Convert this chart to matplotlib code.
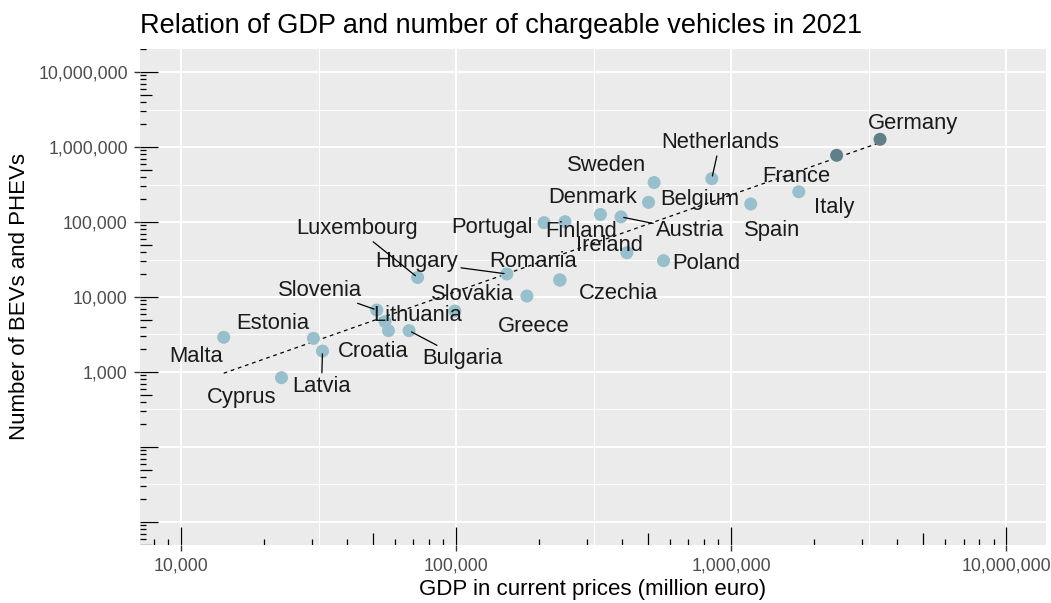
import numpy as np
import matplotlib
matplotlib.use("Agg")
import matplotlib.pyplot as plt
from matplotlib.transforms import blended_transform_factory
from matplotlib.ticker import FixedLocator, FuncFormatter, NullLocator

# ---------------- data ----------------
countries = ["Germany", "France", "Italy", "Spain", "Netherlands", "Sweden",
             "Belgium", "Denmark", "Austria", "Portugal", "Finland", "Ireland",
             "Poland", "Hungary", "Czechia", "Romania", "Greece", "Slovakia",
             "Luxembourg", "Slovenia", "Lithuania", "Croatia", "Bulgaria",
             "Estonia", "Malta", "Latvia", "Cyprus"]
gdp_meur = [3480000, 2420000, 1763000, 1179000, 851000, 525000,
            501000, 335000, 398000, 209000, 249000, 418000,
            568000, 153000, 238000, 239000, 181000, 99000,
            72500, 51500, 55200, 56800, 67500,
            30300, 14300, 32700, 23200]
bev_phev = [1267000, 775000, 253000, 174000, 378000, 336000,
            183000, 126000, 117000, 98000, 101000, 39000,
            30500, 20300, 16900, 16800, 10300, 6500,
            18200, 6700, 4700, 3560, 3560,
            2810, 2900, 1900, 840]
highlight = ["Germany", "France"]

x_breaks = [1e4, 1e5, 1e6, 1e7]
y_breaks = [1e3, 1e4, 1e5, 1e6, 1e7]

title = "Relation of GDP and number of chargeable vehicles in 2021"
xlab = "GDP in current prices (million euro)"
ylab = "Number of BEVs and PHEVs"

# ---------------- layout (pixels) ----------------
W, H, DPI = 1051, 603, 100
PL, PR, PT, PB = 140, 1046, 49, 545
PX = 72.0 / DPI  # points per pixel

# label offsets (label centre minus point centre, in pixels, y downward)
label_off = {
    "Germany": (33, -16), "France": (-40, 21), "Italy": (35, 16),
    "Spain": (21, 27), "Netherlands": (8, -36), "Sweden": (-48, -17),
    "Belgium": (51, -3), "Denmark": (-8, -17), "Austria": (69, 14),
    "Portugal": (-52, 5), "Finland": (16, 10), "Ireland": (-17, -7),
    "Poland": (43, 3), "Hungary": (-90, -12), "Czechia": (59, 14),
    "Romania": (-27, -19), "Greece": (7, 30), "Slovakia": (18, -17),
    "Luxembourg": (-61, -49), "Slovenia": (-57, -20), "Lithuania": (33, -6),
    "Croatia": (-15, 21), "Bulgaria": (53, 28), "Estonia": (-41, -15),
    "Malta": (-28, 19), "Latvia": (-1, 35), "Cyprus": (-40, 20),
}
with_segment = ["Netherlands", "Austria", "Hungary", "Luxembourg",
                "Slovenia", "Bulgaria", "Latvia"]

plt.rcParams['font.family'] = ['Liberation Sans', 'DejaVu Sans']

fig = plt.figure(figsize=(W / DPI, H / DPI), dpi=DPI)
ax = fig.add_axes([PL / W, 1 - PB / H, (PR - PL) / W, (PB - PT) / H])
ax.set_facecolor('#EBEBEB')
for s in ax.spines.values():
    s.set_visible(False)
ax.set_xscale('log')
ax.set_yscale('log')
ax.set_xlim(10 ** 3.851, 10 ** 7.145)
ax.set_ylim(10 ** 0.693, 10 ** 7.307)

# grid
for k in range(1, 8):
    ax.axhline(10 ** k, color='white', lw=1.4, zorder=0.5)
for k in range(0, 8):
    ax.axhline(10 ** (k + 0.5), color='white', lw=0.7, zorder=0.5)
for k in range(3, 8):
    ax.axvline(10 ** k, color='white', lw=1.4, zorder=0.5)
    ax.axvline(10 ** (k + 0.5), color='white', lw=0.7, zorder=0.5)

# log ticks inside panel
ph, pw = PB - PT, PR - PL
tx = blended_transform_factory(ax.transData, ax.transAxes)
ty = blended_transform_factory(ax.transAxes, ax.transData)
x0, x1 = ax.get_xlim()
y0, y1 = ax.get_ylim()
for k in range(0, 8):
    for m in range(1, 10):
        v = m * 10.0 ** k
        ln = 18 if m == 1 else (12 if m == 5 else 6)
        if x0 <= v <= x1:
            ax.plot([v, v], [0, ln / ph], transform=tx, color='black', lw=0.9,
                    solid_capstyle='butt', zorder=1)
        if y0 <= v <= y1:
            ax.plot([0, ln / pw], [v, v], transform=ty, color='black', lw=0.9,
                    solid_capstyle='butt', zorder=1)

# regression line in log-log space
lx = np.log10(gdp_meur)
ly = np.log10(bev_phev)
b1, b0 = np.polyfit(lx, ly, 1)
xs = np.array([lx.min(), lx.max()])
ax.plot(10 ** xs, 10 ** (b0 + b1 * xs), color='black', lw=0.9,
        dashes=(3, 3), zorder=2)

# points
cols = ['#5f7f89' if c in highlight else '#97bfcc' for c in countries]
ax.scatter(gdp_meur, bev_phev, s=(13 * PX) ** 2, c=cols, linewidths=0, zorder=3)

# labels
for c, gx, gy in zip(countries, gdp_meur, bev_phev):
    dx, dy = label_off[c]
    kw = {}
    if c in with_segment:
        kw['arrowprops'] = dict(arrowstyle='-', color='black', lw=0.9,
                                shrinkA=0, shrinkB=2)
    ax.annotate(c, (gx, gy), xytext=(dx * PX, -dy * PX),
                textcoords='offset points', ha='center', va='center',
                fontsize=15.8, color='#1a1a1a', zorder=4, **kw)

# axes ticks
ax.xaxis.set_major_locator(FixedLocator(x_breaks))
ax.yaxis.set_major_locator(FixedLocator(y_breaks))
ax.xaxis.set_minor_locator(NullLocator())
ax.yaxis.set_minor_locator(NullLocator())
fmt = FuncFormatter(lambda v, p: f"{int(round(v)):,}")
ax.xaxis.set_major_formatter(fmt)
ax.yaxis.set_major_formatter(fmt)
ax.tick_params(which='major', direction='out', length=4.3, width=1.0,
               color='#333333', labelsize=12.8, labelcolor='#4D4D4D', pad=4.5)

fig.text(PL / W, 1 - 33 / H, title, fontsize=19.5, ha='left', va='baseline',
         color='black')
fig.text(((PL + PR) / 2) / W, 1 - 590 / H, xlab, fontsize=16, ha='center',
         va='center', color='black')
fig.text(20 / W, 1 - ((PT + PB) / 2) / H, ylab, fontsize=16, ha='center',
         va='center', rotation=90, color='black')

fig.savefig('out.png', dpi=DPI)
